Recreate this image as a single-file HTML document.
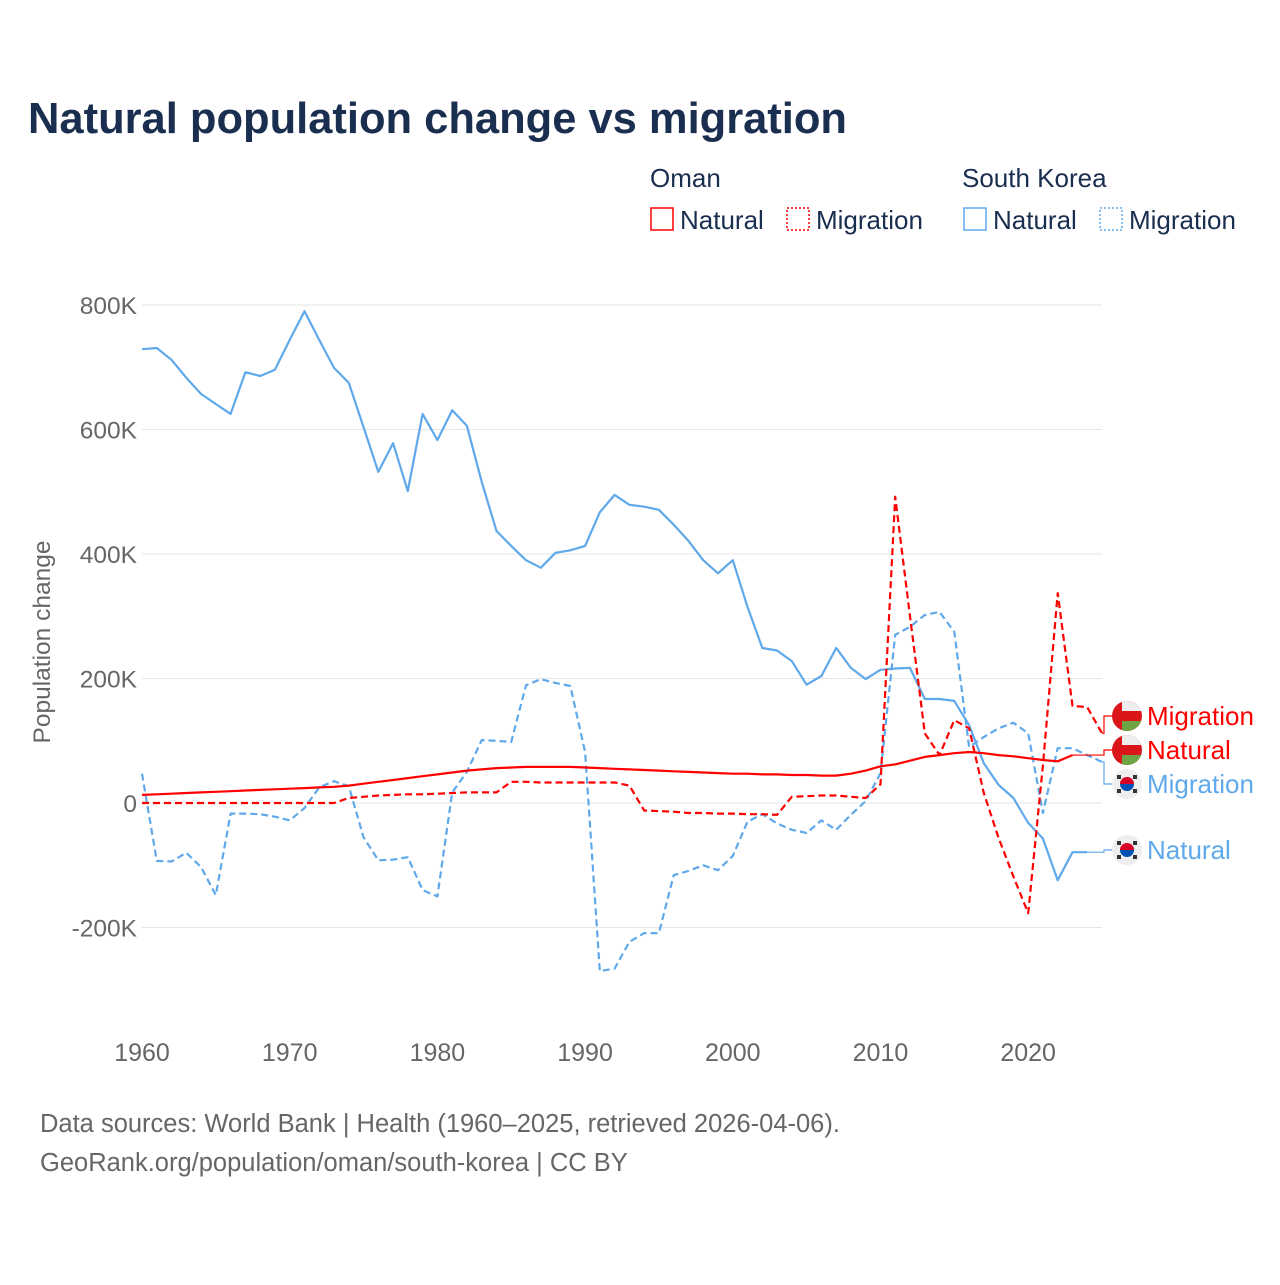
<!DOCTYPE html>
<html><head><meta charset="utf-8"><style>
body{margin:0;background:#fff;}
svg text{font-family:"Liberation Sans",sans-serif;}
</style></head><body>
<svg id="chart" width="1280" height="1280" viewBox="0 0 1280 1280" xmlns="http://www.w3.org/2000/svg">
<rect width="1280" height="1280" fill="#fff"/>
<text x="28" y="133" font-size="43.5" font-weight="bold" fill="#1a2e4f" textLength="819">Natural population change vs migration</text>
<g font-size="26" fill="#1a2e4f">
<text x="650" y="187" fill="#1a2e4f">Oman</text>
<text x="962" y="187" fill="#1a2e4f">South Korea</text>
<g><rect x="651" y="208" width="22" height="22" fill="none" stroke="#ff0000" stroke-width="1.5"/><text x="680" y="229" fill="#1a2e4f">Natural</text></g>
<g><rect x="787" y="208" width="22" height="22" fill="none" stroke="#ff0000" stroke-width="1.5" stroke-dasharray="2,2"/><text x="816" y="229" fill="#1a2e4f">Migration</text></g>
<g><rect x="964" y="208" width="22" height="22" fill="none" stroke="#5fa8ea" stroke-width="1.5"/><text x="993" y="229" fill="#1a2e4f">Natural</text></g>
<g><rect x="1100" y="208" width="22" height="22" fill="none" stroke="#5fa8ea" stroke-width="1.5" stroke-dasharray="2,2"/><text x="1129" y="229" fill="#1a2e4f">Migration</text></g>
</g>
<g id="grid"></g>
<g id="yticks"></g>
<g id="xticks"></g>
<text x="50" y="642" font-size="24.5" fill="#666" transform="rotate(-90 50 642)" text-anchor="middle">Population change</text>
<g id="series"></g>
<g id="labels"></g>
<text x="40" y="1132" font-size="25.5" fill="#666">Data sources: World Bank | Health (1960–2025, retrieved 2026-04-06).</text>
<text x="40" y="1171" font-size="25.5" fill="#666">GeoRank.org/population/oman/south-korea | CC BY</text>
</svg>
<script>
const yTickValues=[-200,0,200,400,600,800];
const yTickLabels=["-200K","0","200K","400K","600K","800K"];
const xTickValues=[1960,1970,1980,1990,2000,2010,2020];
const koreaNaturalStart=1960;
const koreaNatural=[729,731,712,683,657,641,625,692,686,696,744,790,744,699,675,604,532,578,501,625,583,631,606,516,437,413,390,378,402,406,413,467,495,479,476,471,447,421,390,369,390,315,249,245,228,190,204,249,217,199,214,216,217,167,167,164,125,64,29,8,-32,-57,-124,-79,-79];
const koreaMigrationStart=1960;
const koreaMigration=[47,-93,-94,-80,-103,-148,-17,-17,-18,-22,-28,-8,25,35,27,-55,-92,-91,-87,-140,-150,17,50,101,100,98,189,199,193,188,82,-270,-266,-223,-209,-209,-116,-109,-100,-108,-85,-30,-18,-33,-43,-48,-28,-43,-19,3,48,270,283,302,307,275,90,106,120,129,112,-16,88,88,77,66];
const omanNaturalStart=1960;
const omanNatural=[13,14,15,16,17,18,19,20,21,22,23,24,25,26,28,31,34,37,40,43,46,49,52,54,56,57,58,58,58,58,57,56,55,54,53,52,51,50,49,48,47,47,46,46,45,45,44,44,47,52,59,62,68,74,77,80,82,80,77,75,72,69,67,77];
const omanMigrationStart=1960;
const omanMigration=[0,0,0,0,0,0,0,0,0,0,0,0,0,0,8,10,12,13,14,14,15,16,17,17,17,34,34,33,33,33,33,33,33,28,-12,-13,-14,-16,-16,-17,-17,-18,-18,-19,10,11,12,12,10,8,30,492,300,112,77,133,120,16,-56,-118,-177,60,337,156,154,112];

const X0=142,X1=1102,Y0=803,PER=0.6225;
const xs=yr=>X0+(yr-1960)*(X1-X0)/65;
const ys=v=>Y0-v*PER;
const NS="http://www.w3.org/2000/svg";
function mk(tag,attrs,parent){const e=document.createElementNS(NS,tag);for(const k in attrs)e.setAttribute(k,attrs[k]);parent.appendChild(e);return e;}
const grid=document.getElementById('grid'),yt=document.getElementById('yticks'),xt=document.getElementById('xticks');
yTickValues.forEach((v,i)=>{
  const l=mk('line',{x1:X0,x2:X1,y1:ys(v),y2:ys(v),stroke:'#e6e6e6','stroke-width':1},grid);
  
  
  const t=mk('text',{x:137,y:ys(v)+9,'font-size':24.5,fill:'#666','text-anchor':'end'},yt);
  t.textContent=yTickLabels[i];
  
  
});
xTickValues.forEach(v=>{
  const t=mk('text',{x:xs(v),y:1061,'font-size':25,fill:'#666','text-anchor':'middle'},xt);
  t.textContent=v;
  
  
});
const ser=document.getElementById('series');
function line(start,vals,color,dash,name){
  const pts=vals.map((v,i)=>xs(start+i).toFixed(1)+','+ys(v).toFixed(1)).join(' ');
  const p=mk('polyline',{points:pts,fill:'none',stroke:color,'stroke-width':2.2,'stroke-linejoin':'round'},ser);
  if(dash)p.setAttribute('stroke-dasharray','7,4');
  
  
  return [xs(start+vals.length-1),ys(vals[vals.length-1])];
}
const endKN=line(koreaNaturalStart,koreaNatural,'#5fa8ea',false,'line-korea-natural');
const endKM=line(koreaMigrationStart,koreaMigration,'#5fa8ea',true,'line-korea-migration');
const endON=line(omanNaturalStart,omanNatural,'#ff0000',false,'line-oman-natural');
const endOM=line(omanMigrationStart,omanMigration,'#ff0000',true,'line-oman-migration');
const lab=document.getElementById('labels');
function label(end,ly,color,text,flag,name){
  const g=mk('g',{},lab);
  
  
  mk('polyline',{points:`${end[0]},${end[1]} ${X1+2},${end[1]} ${X1+2},${ly} 1113,${ly}`,fill:'none',stroke:color,'stroke-width':1.2},g);
  const cx=1127,r=15;
  if(flag==='oman'){
    mk('clipPath',{id:'c'+name},g);
    const cp=g.lastChild;mk('circle',{cx:cx,cy:ly,r:r},cp);
    const f=mk('g',{'clip-path':`url(#c${name})`},g);
    mk('rect',{x:cx-r,y:ly-r,width:2*r,height:2*r,fill:'#db161b'},f);
    mk('rect',{x:cx-5,y:ly-r,width:r+5,height:10,fill:'#eee'},f);
    mk('rect',{x:cx-5,y:ly+5,width:r+5,height:10,fill:'#6da544'},f);
  }else{
    mk('circle',{cx:cx,cy:ly,r:r,fill:'#eee'},g);
    mk('path',{d:`M${cx-7},${ly} a7,7 0 0 1 14,0 z`,fill:'#d80027'},g);
    mk('path',{d:`M${cx-7},${ly} a7,7 0 0 0 14,0 z`,fill:'#0052b4'},g);
    [[-8,-7],[8,-7],[-8,7],[8,7]].forEach(d=>mk('rect',{x:cx+d[0]-2,y:ly+d[1]-2,width:4,height:4,fill:'#333'},g));
  }
  const t=mk('text',{x:1147,y:ly+9,'font-size':26,fill:color},g);
  t.textContent=text;
}
label(endOM,716,'#ff0000','Migration','oman','label-oman-migration');
label(endON,750,'#ff0000','Natural','oman','label-oman-natural');
label(endKM,784,'#5fa8ea','Migration','korea','label-korea-migration');
label(endKN,850,'#5fa8ea','Natural','korea','label-korea-natural');
</script>
</body></html>
